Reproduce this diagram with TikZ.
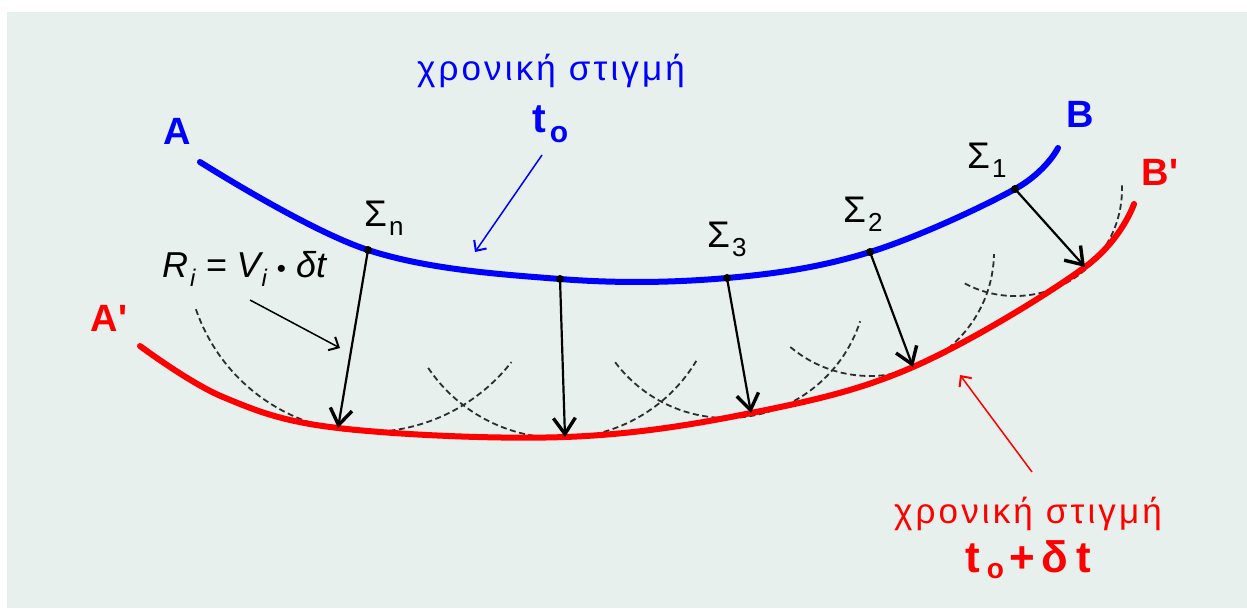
\documentclass[tikz,border=0pt]{standalone}
\usepackage{fontspec}
\setmainfont{Liberation Sans}[Ligatures=TeXOff]
\usetikzlibrary{arrows.meta}
\definecolor{bgcol}{RGB}{231,240,236}
\definecolor{arcgray}{RGB}{45,45,45}
\definecolor{fblue}{RGB}{0,0,255}
\definecolor{fred}{RGB}{255,0,0}
\newcommand{\fs}[1]{\fontsize{#1}{#1}\selectfont}
\newcommand{\sigl}[1]{Σ\kern2pt\raisebox{-9pt}{\fs{26}#1}}
\begin{document}
\begin{tikzpicture}[x=1pt,y=-1pt,
  front/.style={line width=6pt, line cap=round},
  disp/.style={line width=2.2pt, -{Straight Barb[length=16pt,width=22pt,line width=3.4pt]}},
  ptr/.style={line width=1.5pt, -{Straight Barb[length=8pt,width=15pt,line width=2pt]}},
  wavelet/.style={arcgray, line width=1.8pt, dash pattern=on 6pt off 3.5pt},
  lbl/.style={inner sep=0pt, font=\fs{37}},
  dotpt/.style={circle, fill=black, inner sep=0pt, minimum size=8pt}]
\useasboundingbox (0,0) rectangle (1247,608);
\fill[bgcol] (7,12) rectangle (1247,608);

% points on the wavefront at t0 and displaced points
\coordinate (Sn) at (368,250);
\coordinate (Sm) at (560,279);
\coordinate (S3) at (727,278);
\coordinate (S2) at (870,252);
\coordinate (S1) at (1015,189);
\coordinate (Tn) at (338,428);
\coordinate (Tm) at (565,437);
\coordinate (T3) at (751,413);
\coordinate (T2) at (913,367);
\coordinate (T1) at (1085,267);

% wavelets
\draw[wavelet] (Sn) ++(161:182) arc[start angle=161, end angle=38, radius=182];
\draw[wavelet] (Sm) ++(146:159) arc[start angle=146, end angle=31, radius=159];
\draw[wavelet] (S3) ++(143:140) arc[start angle=143, end angle=18, radius=140];
\draw[wavelet] (S2) ++(130:124) arc[start angle=130, end angle=1, radius=124];
\draw[wavelet] (S1) ++(118:107) arc[start angle=118, end angle=-2, radius=107];

% fronts
\draw[fblue, front] plot[smooth, tension=0.6] coordinates {(200,162) (368,250) (560,279) (727,278) (870,252) (1015,189) (1058,148)};
\draw[fred, front] plot[smooth, tension=0.6] coordinates {(140,346) (223,397) (338,428) (565,437) (751,413) (913,367) (1085,267) (1134,204)};

% displacement arrows
\foreach \s/\t in {Sn/Tn, Sm/Tm, S3/T3, S2/T2, S1/T1}{
  \draw[disp] (\s) -- (\t);
  \node[dotpt] at (\s) {};
}

% labels
\node[lbl, font=\fs{38}\bfseries, text=fblue] (A) at (177,131) {A};
\node[lbl, font=\fs{38}\bfseries, text=fblue] (B) at (1080,114) {B};
\node[lbl, font=\fs{38}\bfseries, text=fred] (Ap) at (109,318) {A'};
\node[lbl, font=\fs{38}\bfseries, text=fred] (Bp) at (1160,172) {B'};

\node[lbl, anchor=base west] (ln) at (364,226) {\sigl{n}};
\node[lbl, anchor=base west] (l3) at (707,247) {\sigl{3}};
\node[lbl, anchor=base west] (l2) at (843,222) {\sigl{2}};
\node[lbl, anchor=base west] (l1) at (967,168) {\sigl{1}};

\node[lbl, anchor=base west, font=\fs{36}\itshape] (R) at (162,277)
  {R\kern2pt\raisebox{-9pt}{\fs{24}i} = V\kern1pt\raisebox{-9pt}{\fs{24}i} {\upshape\fs{26}•} δt};

\node[lbl, anchor=base, font=\fs{35}\addfontfeatures{LetterSpace=9}, text=fblue] (g1) at (551,80) {χρονική στιγμή};
\node[lbl, anchor=base west, font=\fs{41}\bfseries, text=fblue] (t1) at (532,132)
  {t\kern4pt\raisebox{-10pt}{\fs{30}o}};
\node[lbl, anchor=base, font=\fs{35}\addfontfeatures{LetterSpace=9}, text=fred] (g2) at (1028,523) {χρονική στιγμή};
\node[lbl, anchor=base west, font=\fs{44}\bfseries, text=fred] (t2) at (965,572)
  {t\kern7pt\raisebox{-6pt}{\fs{28}o}\kern6pt+\kern6pt δ\kern8pt t};

% pointer arrows
\coordinate (pb1) at (542,155);
\coordinate (pb2) at (475,252);
\coordinate (pr1) at (1032,472);
\coordinate (pr2) at (960,375);
\coordinate (pk1) at (250,300);
\coordinate (pk2) at (340,348);
\draw[ptr, fblue] (pb1) -- (pb2);
\draw[ptr, fred] (pr1) -- (pr2);
\draw[ptr, black] (pk1) -- (pk2);
\end{tikzpicture}
\end{document}
